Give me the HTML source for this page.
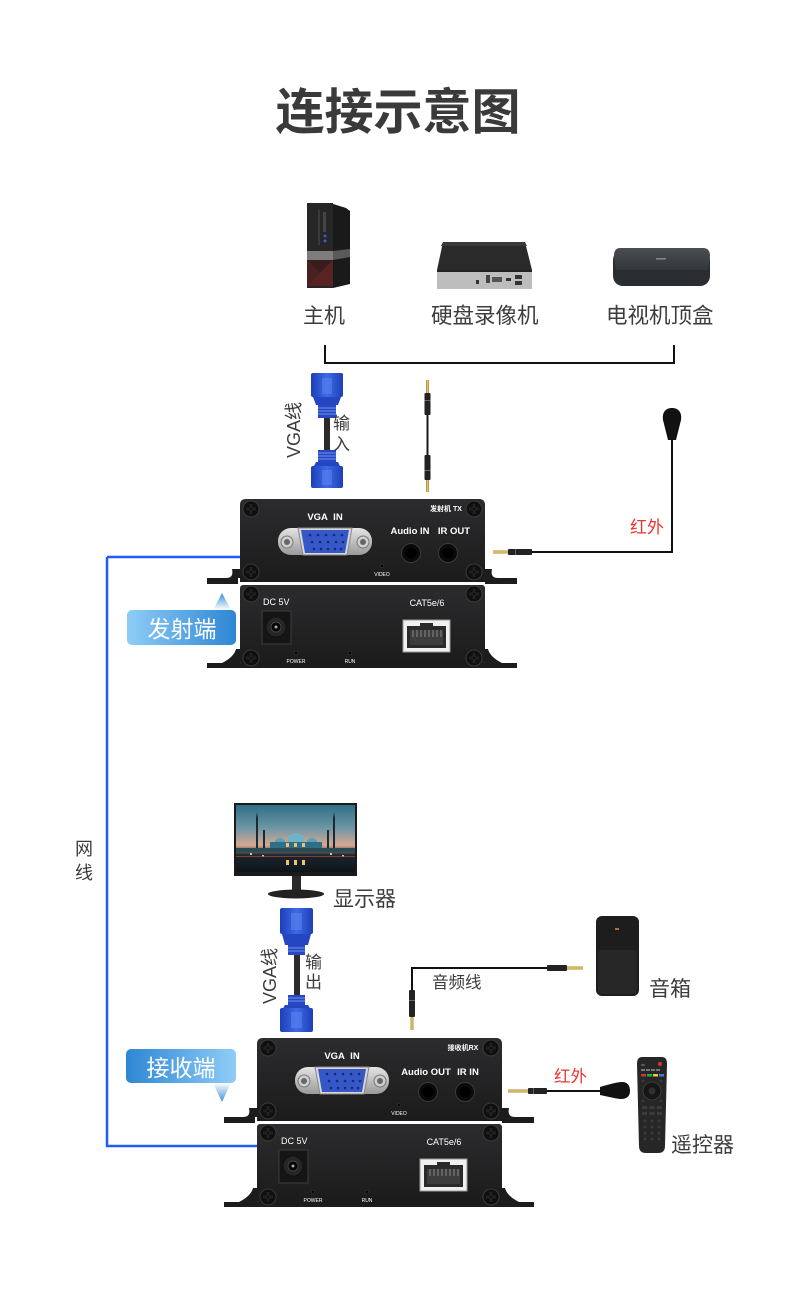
<!DOCTYPE html>
<html><head><meta charset="utf-8">
<style>
html,body{margin:0;padding:0;background:#fff;}
body{width:800px;height:1316px;overflow:hidden;}
svg{display:block;}
.cn{font-family:"Liberation Sans","Noto Sans CJK SC",sans-serif;fill:#3c3c3c;}
.dev{font-family:"Liberation Sans","Noto Sans CJK SC",sans-serif;fill:#fff;}
</style></head>
<body>
<svg width="800" height="1316" viewBox="0 0 800 1316" xmlns="http://www.w3.org/2000/svg">
<defs>
  <linearGradient id="panel" x1="0" y1="0" x2="0" y2="1">
    <stop offset="0" stop-color="#2c2c2e"/><stop offset="1" stop-color="#1b1b1c"/>
  </linearGradient>
  <linearGradient id="blueL" x1="0" y1="0" x2="1" y2="0">
    <stop offset="0" stop-color="#8fcdf7"/><stop offset="1" stop-color="#2e86d3"/>
  </linearGradient>
  <linearGradient id="blueR" x1="0" y1="0" x2="1" y2="0">
    <stop offset="0" stop-color="#2e86d3"/><stop offset="1" stop-color="#8fcdf7"/>
  </linearGradient>
  <linearGradient id="triUp" x1="0" y1="0" x2="0" y2="1">
    <stop offset="0" stop-color="#3d8fd8"/><stop offset="1" stop-color="#ffffff"/>
  </linearGradient>
  <linearGradient id="triDn" x1="0" y1="0" x2="0" y2="1">
    <stop offset="0" stop-color="#ffffff"/><stop offset="1" stop-color="#3d8fd8"/>
  </linearGradient>
  <linearGradient id="vgaBlue" x1="0" y1="0" x2="1" y2="0">
    <stop offset="0" stop-color="#1d3fb8"/><stop offset="0.5" stop-color="#3f6ae6"/><stop offset="1" stop-color="#1d3fb8"/>
  </linearGradient>
  <linearGradient id="gold" x1="0" y1="0" x2="1" y2="0">
    <stop offset="0" stop-color="#a07a2a"/><stop offset="0.5" stop-color="#f1d27a"/><stop offset="1" stop-color="#a07a2a"/>
  </linearGradient>
  <linearGradient id="goldV" x1="0" y1="0" x2="0" y2="1">
    <stop offset="0" stop-color="#a07a2a"/><stop offset="0.5" stop-color="#f1d27a"/><stop offset="1" stop-color="#a07a2a"/>
  </linearGradient>
  <linearGradient id="sky" x1="0" y1="0" x2="0" y2="1">
    <stop offset="0" stop-color="#2f6f86"/><stop offset="0.35" stop-color="#6f97a6"/><stop offset="0.6" stop-color="#d7a891"/><stop offset="0.75" stop-color="#1a2630"/><stop offset="1" stop-color="#0e1418"/>
  </linearGradient>
  <linearGradient id="stbTop" x1="0" y1="0" x2="0" y2="1">
    <stop offset="0" stop-color="#4a4d52"/><stop offset="1" stop-color="#33363a"/>
  </linearGradient>
  <linearGradient id="metal" x1="0" y1="0" x2="0" y2="1">
    <stop offset="0" stop-color="#e4e4e4"/><stop offset="1" stop-color="#9a9a9a"/>
  </linearGradient>

  <g id="screw">
    <circle r="8" fill="#0f0f0f" stroke="#3a3a3a" stroke-width="1"/>
    <path d="M-5 0H5M0 -5V5" stroke="#555" stroke-width="2.2"/>
    <path d="M-5 0H5M0 -5V5" stroke="#000" stroke-width="1.2"/>
  </g>

  <g id="vgaport">
    <rect x="38" y="29" width="94" height="27" rx="13" fill="url(#metal)"/>
    <circle cx="47" cy="43" r="6" fill="#cfcfcf" stroke="#777"/>
    <circle cx="47" cy="43" r="3" fill="#666"/>
    <circle cx="123" cy="43" r="6" fill="#cfcfcf" stroke="#777"/>
    <circle cx="123" cy="43" r="3" fill="#666"/>
    <path d="M58 29H112L107 56H63Z" fill="#d8d8d8" stroke="#888"/>
    <path d="M61 31H109L105 54H65Z" fill="#3557c8"/>
    <g fill="#1a2a70">
      <circle cx="70" cy="36" r="1.3"/><circle cx="78" cy="36" r="1.3"/><circle cx="86" cy="36" r="1.3"/><circle cx="94" cy="36" r="1.3"/><circle cx="102" cy="36" r="1.3"/>
      <circle cx="72" cy="43" r="1.3"/><circle cx="80" cy="43" r="1.3"/><circle cx="88" cy="43" r="1.3"/><circle cx="96" cy="43" r="1.3"/><circle cx="103" cy="43" r="1.3"/>
      <circle cx="74" cy="50" r="1.3"/><circle cx="81" cy="50" r="1.3"/><circle cx="88" cy="50" r="1.3"/><circle cx="95" cy="50" r="1.3"/><circle cx="101" cy="50" r="1.3"/>
    </g>
  </g>

  <g id="chassis">
    <!-- top panel flanges -->
    <path d="M-33 79H-2V85H-33Z" fill="#1c1c1c"/>
    <path d="M-8 70Q-6 79 -14 79H0V70Z" fill="#1c1c1c"/>
    <path d="M245 79H277V85H245Z" fill="#1c1c1c"/>
    <path d="M252 70Q250 79 258 79H245V70Z" fill="#1c1c1c"/>
    <path d="M0 83V6Q0 0 6 0H239Q245 0 245 6V83Z" fill="url(#panel)"/>
    <!-- bottom panel -->
    <path d="M-33 164H277V169H-33Z" fill="#1c1c1c"/>
    <path d="M-18 164Q-6 158 -4 150H0V164Z" fill="#1c1c1c"/>
    <path d="M262 164Q250 158 248 150H245V164Z" fill="#1c1c1c"/>
    <rect x="0" y="86" width="245" height="80" rx="3" fill="url(#panel)"/>
    <use href="#screw" x="11" y="10"/><use href="#screw" x="234" y="10"/>
    <use href="#screw" x="11" y="73"/><use href="#screw" x="234" y="73"/>
    <use href="#screw" x="11" y="95"/><use href="#screw" x="234" y="95"/>
    <use href="#screw" x="11" y="159"/><use href="#screw" x="234" y="159"/>
    <use href="#vgaport"/>
    <text class="dev" x="85" y="21" font-size="9.5" font-weight="bold" text-anchor="middle">VGA&#160;&#160;IN</text>
    <circle cx="171" cy="54" r="9.5" fill="#0a0a0a" stroke="#3a3a3a"/>
    <circle cx="171" cy="54" r="5.5" fill="#000"/>
    <circle cx="208" cy="54" r="9.5" fill="#0a0a0a" stroke="#3a3a3a"/>
    <circle cx="208" cy="54" r="5.5" fill="#000"/>
    <circle cx="142" cy="67" r="1.8" fill="#050505" stroke="#444" stroke-width="0.5"/>
    <text class="dev" x="142" y="77" font-size="5" text-anchor="middle" fill="#ccc">VIDEO</text>
    <!-- bottom -->
    <rect x="22" y="112" width="29" height="33" fill="#151515" stroke="#3d3d3d"/>
    <circle cx="36" cy="128" r="10" fill="#262626" stroke="#111"/>
    <circle cx="36" cy="128" r="5" fill="#050505" stroke="#555" stroke-width="0.7"/>
    <circle cx="36" cy="128" r="1.5" fill="#aaa"/>
    <circle cx="56" cy="154" r="1.8" fill="#050505" stroke="#444" stroke-width="0.5"/>
    <text class="dev" x="56" y="164" font-size="5" text-anchor="middle" fill="#ccc">POWER</text>
    <circle cx="110" cy="154" r="1.8" fill="#050505" stroke="#444" stroke-width="0.5"/>
    <text class="dev" x="110" y="164" font-size="5" text-anchor="middle" fill="#ccc">RUN</text>
    <text class="dev" x="187" y="107" font-size="9" text-anchor="middle" fill="#e8e8e8">CAT5e/6</text>
    <rect x="163" y="121" width="47" height="32" fill="#f0f0f0" stroke="#999"/>
    <path d="M167 127H180V124H193V127H206V149H167Z" fill="#2a2a2a"/>
    <path d="M170 131H203V146H170Z" fill="#3d3d3d"/>
    <g stroke="#9a9a9a" stroke-width="0.8">
      <path d="M173 131V138M177 131V138M181 131V138M185 131V138M189 131V138M193 131V138M197 131V138M201 131V138"/>
    </g>
  </g>
</defs>

<!-- Title -->
<text x="398" y="129" text-anchor="middle" font-family="'Liberation Sans','Noto Sans CJK SC',sans-serif" font-size="49" font-weight="bold" fill="#3a3a3a">连接示意图</text>

<!-- PC tower -->
<g>
  <path d="M330 203L346 208L350 211V284L333 288Z" fill="#1a1a1a"/>
  <rect x="307" y="203" width="26" height="85" fill="#262626"/>
  <rect x="318" y="210" width="2" height="35" fill="#3a3a3a"/>
  <rect x="323" y="212" width="3" height="20" fill="#444"/>
  <circle cx="325" cy="236" r="1.5" fill="#3a5bd0"/><circle cx="325" cy="241" r="1.5" fill="#3a5bd0"/>
  <rect x="307" y="251" width="26" height="9" fill="#7d7d7d"/>
  <path d="M333 251L350 249V257L333 260Z" fill="#5a5a5a"/>
  <rect x="307" y="260" width="26" height="26" fill="#3a1c1c"/>
  <path d="M307 286L333 260V286Z" fill="#5a2323"/>
  <path d="M307 260L320 273L307 286Z" fill="#4a2020"/>
</g>

<!-- NVR -->
<g>
  <path d="M443 242H525L532 270H437Z" fill="#2a2a2a"/>
  <path d="M443 242H525L527 246H441Z" fill="#3a3a3a"/>
  <rect x="437" y="270" width="95" height="19" fill="#bdbdbd"/>
  <rect x="437" y="270" width="95" height="2" fill="#222"/>
  <rect x="486" y="275" width="4" height="8" fill="#444"/>
  <rect x="492" y="277" width="10" height="5" fill="#555"/>
  <rect x="506" y="278" width="5" height="3" fill="#333"/>
  <rect x="515" y="275" width="7" height="4" fill="#333"/><rect x="515" y="281" width="7" height="4" fill="#333"/>
  <rect x="476" y="280" width="3" height="4" fill="#333"/>
</g>

<!-- STB -->
<g>
  <rect x="613" y="250" width="97" height="36" rx="10" fill="#2a2d31"/>
  <path d="M620 248Q614 248 614 256L616 270H708L710 256Q710 248 703 248Z" fill="url(#stbTop)"/>
  <rect x="656" y="258" width="10" height="1.5" fill="#888"/>
</g>

<text class="cn" x="303" y="323" font-size="21">主机</text>
<text class="cn" x="431" y="323" font-size="21.5">硬盘录像机</text>
<text class="cn" x="606" y="323" font-size="21.5">电视机顶盒</text>

<!-- bracket -->
<path d="M325 345V363H674V345" fill="none" stroke="#111" stroke-width="2"/>

<!-- VGA cable top -->
<g>
  <rect x="311" y="373" width="32" height="24" rx="2" fill="url(#vgaBlue)"/>
  <path d="M313 397H341L338 405H316Z" fill="#2446c0"/>
  <rect x="322" y="378" width="10" height="16" fill="#5a82f0" opacity="0.6"/>
  <rect x="318" y="405" width="18" height="13" fill="#2748c0"/>
  <path d="M318 408H336M318 411H336M318 414H336" stroke="#6e92f2" stroke-width="1"/>
  <rect x="324" y="418" width="6" height="32" fill="#2b2b2b"/>
  <rect x="318" y="450" width="18" height="12" fill="#2748c0"/>
  <path d="M318 453H336M318 456H336M318 459H336" stroke="#6e92f2" stroke-width="1"/>
  <path d="M316 462H338L341 468H313Z" fill="#2446c0"/>
  <rect x="311" y="466" width="32" height="22" rx="2" fill="url(#vgaBlue)"/>
  <rect x="322" y="470" width="10" height="15" fill="#5a82f0" opacity="0.6"/>
</g>
<text class="cn" font-size="18" transform="translate(300,430) rotate(-90)" text-anchor="middle">VGA线</text>
<text class="cn" x="333" y="429" font-size="17">输</text>
<text class="cn" x="333" y="450" font-size="17">入</text>

<!-- audio cable TX -->
<g>
  <rect x="426" y="380" width="3" height="13" fill="url(#gold)"/>
  <rect x="424.5" y="393" width="6" height="22" rx="1" fill="#222"/>
  <rect x="424.5" y="400" width="6" height="1" fill="#666"/>
  <rect x="426.5" y="415" width="2" height="40" fill="#1a1a1a"/>
  <rect x="424.5" y="455" width="6" height="25" rx="1" fill="#222"/>
  <rect x="424.5" y="470" width="6" height="1" fill="#666"/>
  <rect x="426" y="480" width="3" height="12" fill="url(#gold)"/>
</g>

<!-- IR emitter TX -->
<path d="M672 440V552H530" fill="none" stroke="#111" stroke-width="2"/>
<path d="M672 408C665 408 662 413 663 420L668 440H676L681 420C682 413 679 408 672 408Z" fill="#111"/>
<rect x="508" y="549" width="24" height="6" rx="1" fill="#222"/>
<rect x="515" y="549" width="1" height="6" fill="#666"/>
<rect x="493" y="550.5" width="15" height="3" fill="url(#goldV)"/>
<text x="630" y="533" font-size="17" font-family="'Liberation Sans','Noto Sans CJK SC',sans-serif" fill="#e83530">红外</text>

<!-- blue network line -->
<path d="M107 557H240M107 557V1146H258" fill="none" stroke="#1f5cf2" stroke-width="2.5"/>

<!-- TX chassis -->
<use href="#chassis" x="240" y="499"/>
<text class="dev" x="446" y="511" font-size="7" font-weight="bold" text-anchor="middle">发射机 TX</text>
<text class="dev" x="410" y="534" font-size="9.5" font-weight="bold" text-anchor="middle">Audio IN</text>
<text class="dev" x="454" y="534" font-size="9.5" font-weight="bold" text-anchor="middle">IR OUT</text>
<text class="dev" x="263" y="605" font-size="9" fill="#e8e8e8">DC 5V</text>

<!-- 发射端 label -->
<path d="M222 593L231 610H213Z" fill="url(#triUp)"/>
<rect x="127" y="610" width="109" height="35" rx="5" fill="url(#blueL)"/>
<text x="182" y="637" font-size="23" text-anchor="middle" font-family="'Liberation Sans','Noto Sans CJK SC',sans-serif" fill="#fff">发射端</text>

<!-- 网线 -->
<text class="cn" x="75" y="855" font-size="18">网</text>
<text class="cn" x="75" y="879" font-size="18">线</text>

<!-- Monitor -->
<g>
  <rect x="234" y="803" width="123" height="73" fill="#1a1a1a"/>
  <rect x="236" y="805" width="119" height="67" fill="url(#sky)"/>
  <g fill="#1c2a33">
    <rect x="256" y="818" width="2" height="30"/>
    <rect x="263" y="830" width="2" height="18"/>
    <rect x="327" y="830" width="2" height="18"/>
    <rect x="333" y="818" width="2" height="30"/>
  </g>
  <path d="M256 818L257 812L258 818Z" fill="#1c2a33"/>
  <path d="M333 818L334 812L335 818Z" fill="#1c2a33"/>
  <ellipse cx="296" cy="839" rx="8" ry="6" fill="#6fb3c8"/>
  <ellipse cx="280" cy="842" rx="5" ry="4" fill="#5aa0b8"/>
  <ellipse cx="312" cy="842" rx="5" ry="4" fill="#5aa0b8"/>
  <rect x="270" y="842" width="52" height="8" fill="#2f6f86"/>
  <rect x="236" y="848" width="119" height="4" fill="#2a4a56"/>
  <g fill="#f2c070">
    <rect x="286" y="843" width="3" height="4"/><rect x="294" y="843" width="3" height="4"/><rect x="302" y="843" width="3" height="4"/>
    <rect x="250" y="853" width="2" height="2"/><rect x="262" y="855" width="2" height="2"/><rect x="330" y="853" width="2" height="2"/><rect x="342" y="855" width="2" height="2"/>
    <rect x="286" y="860" width="3" height="5"/><rect x="294" y="860" width="3" height="5"/><rect x="302" y="860" width="3" height="5"/>
  </g>
  <rect x="236" y="856" width="119" height="1" fill="#b04830" opacity="0.7"/>
  <rect x="292" y="876" width="9" height="16" fill="#2a2a2a"/>
  <ellipse cx="296" cy="894" rx="28" ry="4.5" fill="#222"/>
</g>
<text class="cn" x="333" y="906" font-size="21">显示器</text>

<!-- VGA cable RX -->
<g>
  <rect x="280" y="908" width="33" height="26" rx="2" fill="url(#vgaBlue)"/>
  <path d="M282 934H311L308 945H285Z" fill="#2446c0"/>
  <rect x="291" y="913" width="11" height="17" fill="#5a82f0" opacity="0.6"/>
  <rect x="288" y="945" width="17" height="10" fill="#2748c0"/>
  <path d="M288 948H305M288 951H305" stroke="#6e92f2" stroke-width="1"/>
  <rect x="294" y="955" width="6" height="40" fill="#2b2b2b"/>
  <rect x="288" y="995" width="17" height="10" fill="#2748c0"/>
  <path d="M288 998H305M288 1001H305" stroke="#6e92f2" stroke-width="1"/>
  <path d="M285 1005H308L311 1010H282Z" fill="#2446c0"/>
  <rect x="280" y="1008" width="33" height="24" rx="2" fill="url(#vgaBlue)"/>
  <rect x="291" y="1012" width="11" height="16" fill="#5a82f0" opacity="0.6"/>
</g>
<text class="cn" font-size="18" transform="translate(276,976) rotate(-90)" text-anchor="middle">VGA线</text>
<text class="cn" x="305" y="968" font-size="17">输</text>
<text class="cn" x="305" y="988" font-size="17">出</text>

<!-- Audio cable RX -->
<path d="M412 990V968H547" fill="none" stroke="#111" stroke-width="2"/>
<rect x="409" y="990" width="6" height="27" rx="1" fill="#222"/>
<rect x="409" y="1000" width="6" height="1" fill="#666"/>
<rect x="410.5" y="1017" width="3" height="13" fill="url(#gold)"/>
<rect x="547" y="965" width="20" height="6" rx="1" fill="#222"/>
<rect x="567" y="966.5" width="16" height="3" fill="url(#goldV)"/>
<text class="cn" x="432" y="988" font-size="16.5">音频线</text>

<!-- Speaker -->
<g>
  <rect x="596" y="916" width="43" height="80" rx="6" fill="#1d1d1d"/>
  <rect x="598" y="950" width="39" height="44" rx="3" fill="#2a2a2a" opacity="0.8"/>
  <rect x="615" y="928" width="4" height="2" fill="#b86a40"/>
</g>
<text class="cn" x="649" y="996" font-size="21">音箱</text>

<!-- RX chassis -->
<use href="#chassis" x="257" y="1038"/>
<text class="dev" x="463" y="1050" font-size="7" font-weight="bold" text-anchor="middle">接收机RX</text>
<text class="dev" x="426" y="1075" font-size="9.5" font-weight="bold" text-anchor="middle">Audio OUT</text>
<text class="dev" x="468" y="1075" font-size="9.5" font-weight="bold" text-anchor="middle">IR IN</text>
<text class="dev" x="281" y="1144" font-size="9" fill="#e8e8e8">DC 5V</text>

<!-- 接收端 label -->
<rect x="126" y="1049" width="110" height="34" rx="5" fill="url(#blueR)"/>
<text x="181" y="1076" font-size="23" text-anchor="middle" font-family="'Liberation Sans','Noto Sans CJK SC',sans-serif" fill="#fff">接收端</text>
<path d="M213 1083H231L222 1102Z" fill="url(#triDn)"/>

<!-- IR receiver RX -->
<rect x="508" y="1089.5" width="20" height="3" fill="url(#goldV)"/>
<rect x="528" y="1088" width="19" height="6" rx="1" fill="#222"/>
<rect x="533" y="1088" width="1" height="6" fill="#666"/>
<path d="M547 1091H602" stroke="#111" stroke-width="2"/>
<path d="M600 1087C610 1084 618 1082 622 1082C628 1082 630 1086 630 1091C630 1096 627 1099 621 1099C617 1099 610 1097 600 1095Z" fill="#111"/>
<text x="554" y="1082" font-size="16.5" font-family="'Liberation Sans','Noto Sans CJK SC',sans-serif" fill="#e83530">红外</text>

<!-- Remote -->
<g>
  <path d="M642 1057H662Q667 1057 667 1064L665 1146Q665 1153 658 1153H646Q639 1153 639 1146L637 1064Q637 1057 642 1057Z" fill="#262626"/>
  <circle cx="660" cy="1064" r="2" fill="#e03030"/>
  <rect x="641" y="1064" width="4" height="2" fill="#555"/>
  <g>
    <rect x="641" y="1069" width="4" height="2" fill="#777"/><rect x="646" y="1069" width="4" height="2" fill="#777"/><rect x="651" y="1069" width="4" height="2" fill="#777"/><rect x="656" y="1069" width="4" height="2" fill="#777"/>
    <rect x="641" y="1074" width="5" height="2.5" fill="#e03030"/><rect x="647" y="1074" width="5" height="2.5" fill="#20b050"/><rect x="653" y="1074" width="5" height="2.5" fill="#e8d020"/><rect x="659" y="1074" width="5" height="2.5" fill="#3a7ee0"/>
  </g>
  <circle cx="652" cy="1091" r="9" fill="#161616" stroke="#3c3c3c"/>
  <circle cx="652" cy="1091" r="3.5" fill="#303030"/>
  <g fill="#3a3a3a">
    <circle cx="643" cy="1081" r="1.5"/><circle cx="661" cy="1081" r="1.5"/><circle cx="643" cy="1101" r="1.5"/><circle cx="661" cy="1101" r="1.5"/>
    <rect x="642" y="1106" width="5" height="3"/><rect x="649.5" y="1106" width="5" height="3"/><rect x="657" y="1106" width="5" height="3"/>
    <rect x="642" y="1112" width="5" height="3"/><rect x="649.5" y="1112" width="5" height="3"/><rect x="657" y="1112" width="5" height="3"/>
    <circle cx="645" cy="1121" r="1.5"/><circle cx="652" cy="1121" r="1.5"/><circle cx="659" cy="1121" r="1.5"/>
    <circle cx="645" cy="1127" r="1.5"/><circle cx="652" cy="1127" r="1.5"/><circle cx="659" cy="1127" r="1.5"/>
    <circle cx="645" cy="1133" r="1.5"/><circle cx="652" cy="1133" r="1.5"/><circle cx="659" cy="1133" r="1.5"/>
    <circle cx="645" cy="1139" r="1.5"/><circle cx="652" cy="1139" r="1.5"/><circle cx="659" cy="1139" r="1.5"/>
  </g>
</g>
<text class="cn" x="671" y="1152" font-size="21">遥控器</text>
</svg>
</body></html>
